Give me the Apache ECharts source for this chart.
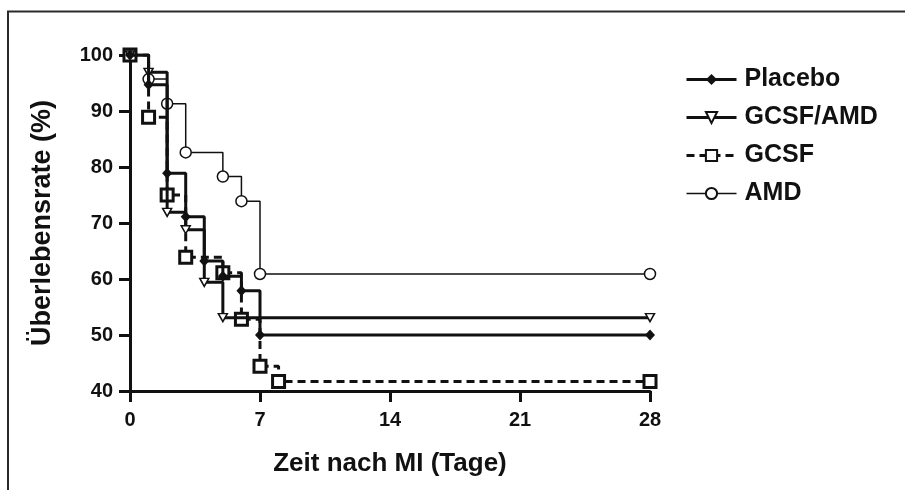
<!DOCTYPE html>
<html>
<head>
<meta charset="utf-8">
<script src="https://cdn.jsdelivr.net/npm/echarts@6/dist/echarts.min.js"></script>
<style>
  html, body { margin: 0; padding: 0; background: #fff; }
  #chart { width: 905px; height: 490px; }
</style>
</head>
<body>
<div id="chart"></div>
<script>
// Kaplan-Meier survival after MI, by treatment group (days, % surviving)
const dayTicks = [0, 7, 14, 21, 28];
const rateTicks = [40, 50, 60, 70, 80, 90, 100];

const placeboDays = [0, 1, 2, 3, 4, 5, 6, 7, 28];
const placeboRate = [100, 94.7, 78.9, 71.1, 63.2, 60.5, 57.9, 50.0, 50.0];

const gcsfAmdDays = [0, 1, 2, 3, 4, 5, 28];
const gcsfAmdRate = [100, 96.9, 71.9, 68.8, 59.4, 53.1, 53.1];

const gcsfDays = [0, 1, 2, 3, 5, 6, 7, 8, 28];
const gcsfRate = [100, 88.9, 75.0, 63.9, 61.1, 52.8, 44.4, 41.7, 41.7];

const amdDays = [0, 1, 2, 3, 5, 6, 7, 28];
const amdRate = [100, 95.7, 91.3, 82.6, 78.3, 73.9, 60.9, 60.9];

const ink = '#111';
const font = 'Liberation Sans, Arial, Helvetica, sans-serif';

function pairs(days, rate) {
  return days.map((d, i) => [d, rate[i]]);
}

function kmSeries(name, days, rate, opts) {
  return Object.assign({
    name: name,
    type: 'line',
    step: 'end',
    data: pairs(days, rate),
    showAllSymbol: true,
    animation: false,
    emphasis: { disabled: true }
  }, opts);
}

const chart = echarts.init(document.getElementById('chart'), null, { renderer: 'canvas' });

chart.setOption({
  backgroundColor: '#fff',
  animation: false,
  graphic: [{
    type: 'polyline',
    shape: { points: [[8, 490], [8, 11.5], [905, 11.5]] },
    style: { stroke: '#2a2a2a', lineWidth: 2, fill: null },
    silent: true
  }],
  grid: { left: 130, top: 55, right: 255, bottom: 99, containLabel: false },
  legend: {
    orient: 'vertical',
    left: 680,
    top: 62,
    itemWidth: 50,
    itemHeight: 14,
    itemGap: 13,
    textStyle: { fontFamily: font, fontWeight: 'bold', fontSize: 25, color: ink, padding: [0, 0, 0, 3] },
    data: [
      { name: 'Placebo', lineStyle: { width: 3 } },
      { name: 'GCSF/AMD', lineStyle: { width: 3 } },
      { name: 'GCSF', lineStyle: { width: 3 } },
      { name: 'AMD', lineStyle: { width: 1.5 } }
    ]
  },
  xAxis: {
    type: 'value',
    min: dayTicks[0],
    max: dayTicks[dayTicks.length - 1],
    interval: dayTicks[1] - dayTicks[0],
    name: 'Zeit nach MI (Tage)',
    nameLocation: 'middle',
    nameGap: 60,
    nameTextStyle: { fontFamily: font, fontWeight: 'bold', fontSize: 26, color: ink },
    axisLine: { onZero: false, lineStyle: { color: ink, width: 3 } },
    axisTick: { show: true, length: 11, lineStyle: { color: ink, width: 3 } },
    axisLabel: { margin: 19, fontFamily: font, fontWeight: 'bold', fontSize: 20, color: ink },
    splitLine: { show: false }
  },
  yAxis: {
    type: 'value',
    min: rateTicks[0],
    max: rateTicks[rateTicks.length - 1],
    interval: rateTicks[1] - rateTicks[0],
    name: 'Überlebensrate (%)',
    nameLocation: 'middle',
    nameGap: 74,
    nameRotate: 90,
    nameTextStyle: { fontFamily: font, fontWeight: 'bold', fontSize: 27, color: ink },
    axisLine: { onZero: false, lineStyle: { color: ink, width: 3 } },
    axisTick: { show: true, length: 11, lineStyle: { color: ink, width: 3 } },
    axisLabel: { margin: 17, fontFamily: font, fontWeight: 'bold', fontSize: 20, color: ink },
    splitLine: { show: false }
  },
  series: [
    kmSeries('AMD', amdDays, amdRate, {
      symbol: 'circle', symbolSize: 11,
      lineStyle: { color: ink, width: 1.5 },
      itemStyle: { color: '#fff', borderColor: ink, borderWidth: 1.5 },
      z: 2
    }),
    kmSeries('GCSF', gcsfDays, gcsfRate, {
      symbol: 'rect', symbolSize: 12,
      lineStyle: { color: ink, width: 3, type: [8, 5] },
      itemStyle: { color: '#fff', borderColor: ink, borderWidth: 3 },
      z: 3
    }),
    kmSeries('GCSF/AMD', gcsfAmdDays, gcsfAmdRate, {
      symbol: 'triangle', symbolSize: [9, 8], symbolRotate: 180,
      lineStyle: { color: ink, width: 3 },
      itemStyle: { color: '#fff', borderColor: ink, borderWidth: 1.5 },
      z: 4
    }),
    kmSeries('Placebo', placeboDays, placeboRate, {
      symbol: 'diamond', symbolSize: [10, 11],
      lineStyle: { color: ink, width: 3 },
      itemStyle: { color: ink, borderColor: ink, borderWidth: 0 },
      z: 5
    })
  ]
});
</script>
</body>
</html>
